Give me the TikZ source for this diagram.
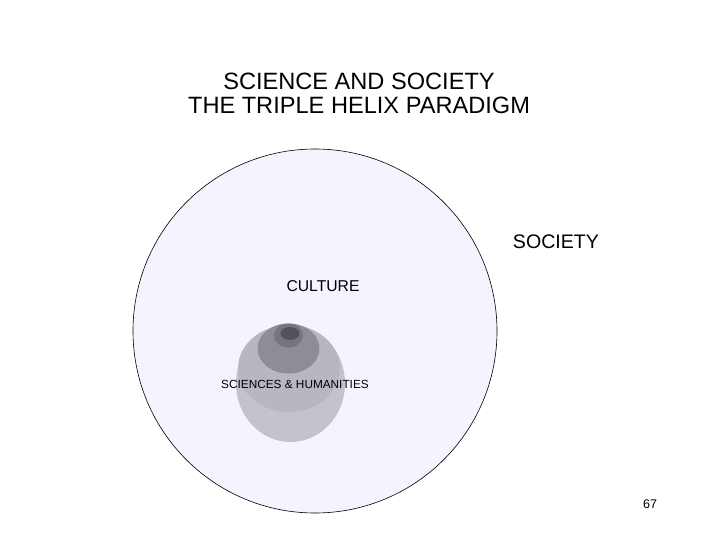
\documentclass[tikz,border=0pt]{standalone}
\usepackage{fontspec}
\setmainfont{Liberation Sans}
\definecolor{bgl}{HTML}{F4F4FE}
\definecolor{g1}{HTML}{C3C3CB}
\definecolor{g2}{HTML}{B7B7C0}
\definecolor{g3}{HTML}{8D8D97}
\definecolor{g4}{HTML}{75757F}
\definecolor{g5}{HTML}{52525C}
\tikzset{lbl/.style={inner sep=0pt, text=black}}
\begin{document}
\begin{tikzpicture}[x=1pt,y=-1pt]
\useasboundingbox (0,0) rectangle (720,540);
\fill[white] (0,0) rectangle (720,540);
% society circle
\node[circle, draw=black, line width=0.6pt, fill=bgl, minimum size=364pt, inner sep=0pt] (society) at (315,331) {};
% nested ellipses
\fill[g1] (290.5,383.5) ellipse [x radius=54.5, y radius=58.5];
\fill[g2] (289,368.5) ellipse [x radius=51, y radius=43.5];
\fill[g3] (288.5,348.5) ellipse [x radius=31, y radius=25];
\fill[g4] (288.5,335.5) ellipse [x radius=14.5, y radius=12];
\fill[g5] (290,333.5) ellipse [x radius=9.5, y radius=6.5];
% texts
\node[lbl, align=center, font=\fontsize{23.6}{24.5}\selectfont] (title) at (359,93.5) {SCIENCE AND SOCIETY\\THE TRIPLE HELIX PARADIGM};
\node[lbl, font=\fontsize{19.6}{22}\selectfont] (soc) at (556,242) {SOCIETY};
\node[lbl, font=\fontsize{15.7}{18}\selectfont] (cult) at (323,286) {CULTURE};
\node[lbl, font=\fontsize{11.8}{14}\selectfont] (sh) at (295,384) {SCIENCES \& HUMANITIES};
\node[lbl, font=\fontsize{12.5}{14}\selectfont] (pg) at (650,504) {67};
\end{tikzpicture}
\end{document}
